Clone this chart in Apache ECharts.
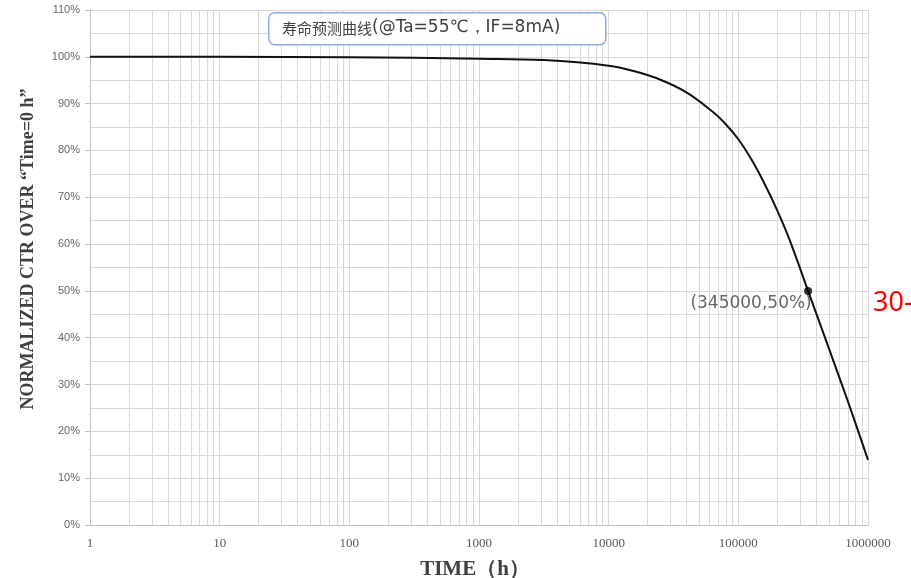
<!DOCTYPE html>
<html><head><meta charset="utf-8">
<script src="https://cdn.jsdelivr.net/npm/echarts@6/dist/echarts.min.js"></script>
<style>html,body{margin:0;padding:0;background:#fff}#c{width:911px;height:578px}</style>
</head><body><div id="c"></div>
<script>
// Data
var timeHours  = [1, 10, 100, 1000, 3160, 10000, 15850, 25100, 39800, 63100, 79400, 100000, 126000, 158500, 199500, 251000, 345000, 501000, 708000, 1000000];
var ctrPercent = [100, 100, 99.9, 99.6, 99.3, 98.1, 96.9, 95.1, 92.4, 88.3, 85.7, 82.4, 78.1, 73.0, 67.2, 60.6, 50.0, 37.6, 26.0, 13.9];
var markedPoint = [345000, 50];
var markedLabel = '(345000,50%)';
var xTickLabels = ['1', '10', '100', '1000', '10000', '100000', '1000000'];
var titleCjk = '寿命预测曲线';
var titleRest = '(@Ta=55℃，IF=8mA)';
var yName = 'NORMALIZED CTR OVER “Time=0 h”';
var xName = 'TIME（h）';
var sideText = '30-';

var minorX = [];
for (var d = 1; d < 1000000; d *= 10) for (var k = 2; k <= 9; k++) minorX.push({xAxis: d * k});

var chart = echarts.init(document.getElementById('c'));
chart.setOption({
  animation: false,
  backgroundColor: '#fff',
  grid: {left: 90, right: 43, top: 10, bottom: 53},
  xAxis: {
    type: 'log', logBase: 10, min: 1, max: 1000000,
    axisLine: {show: true, lineStyle: {color: '#bfbfbf'}},
    axisTick: {show: false},
    axisLabel: {margin: 12, fontFamily: 'Liberation Serif', fontSize: 13, color: '#595959',
      formatter: function (v) { var i = Math.round(Math.log10(v)); return xTickLabels[i] || ''; }},
    splitLine: {show: true, lineStyle: {color: '#d9d9d9'}}
  },
  yAxis: {
    type: 'value', min: 0, max: 110, interval: 10,
    axisLine: {show: true, lineStyle: {color: '#bfbfbf'}},
    axisTick: {show: true, length: 5, lineStyle: {color: '#bfbfbf'}},
    axisLabel: {margin: 10, fontFamily: 'Liberation Sans', fontSize: 11, color: '#666', formatter: '{value}%'},
    splitLine: {show: true, lineStyle: {color: '#d9d9d9'}},
    minorTick: {show: false, splitNumber: 2},
    minorSplitLine: {show: true, lineStyle: {color: '#d9d9d9'}}
  },
  graphic: [
    {type: 'rect', left: 268, top: 12, z: 10,
     shape: {width: 337, height: 32, r: 6},
     style: {fill: '#fff', stroke: '#8faadc', lineWidth: 1.5}},
    {type: 'text', x: 282, y: 28, z: 11,
     style: {text: '{c|' + titleCjk + '}{a|' + titleRest + '}', verticalAlign: 'middle',
       rich: {c: {fontFamily: 'Noto Sans CJK SC', fontSize: 15, lineHeight: 22, verticalAlign: 'middle', fill: '#404040'},
              a: {fontFamily: 'DejaVu Sans', fontSize: 17, lineHeight: 22, verticalAlign: 'middle', fill: '#404040'}}}},
    {type: 'text', x: 28, y: 249, rotation: Math.PI / 2, z: 11,
     style: {text: yName, align: 'center', verticalAlign: 'middle',
       fontFamily: 'Liberation Serif', fontWeight: 'bold', fontSize: 18, fill: '#404040'}},
    {type: 'text', x: 475, y: 570, z: 11,
     style: {text: xName, align: 'center', verticalAlign: 'middle',
       fontFamily: 'Liberation Serif', fontWeight: 'bold', fontSize: 21, fill: '#404040'}},
    {type: 'text', x: 873, y: 303, z: 11,
     style: {text: sideText, verticalAlign: 'middle', fill: '#ff0000', fontSize: 27, fontFamily: 'Noto Sans'}}
  ],
  series: [{
    type: 'line', data: timeHours.map(function (t, i) { return [t, ctrPercent[i]]; }),
    smooth: 0.4, showSymbol: false, lineStyle: {color: '#111', width: 2}, z: 5,
    markLine: {silent: true, symbol: 'none', label: {show: false},
      lineStyle: {color: '#d9d9d9', type: 'solid', width: 1}, data: minorX, z: 1}
  }, {
    type: 'scatter', data: [markedPoint], symbolSize: 8, itemStyle: {color: '#000'}, z: 6,
    label: {show: true, position: 'inside', offset: [-57, 13], formatter: markedLabel,
      fontFamily: 'DejaVu Sans', fontSize: 17, color: '#404040'}
  }]
});
</script></body></html>
